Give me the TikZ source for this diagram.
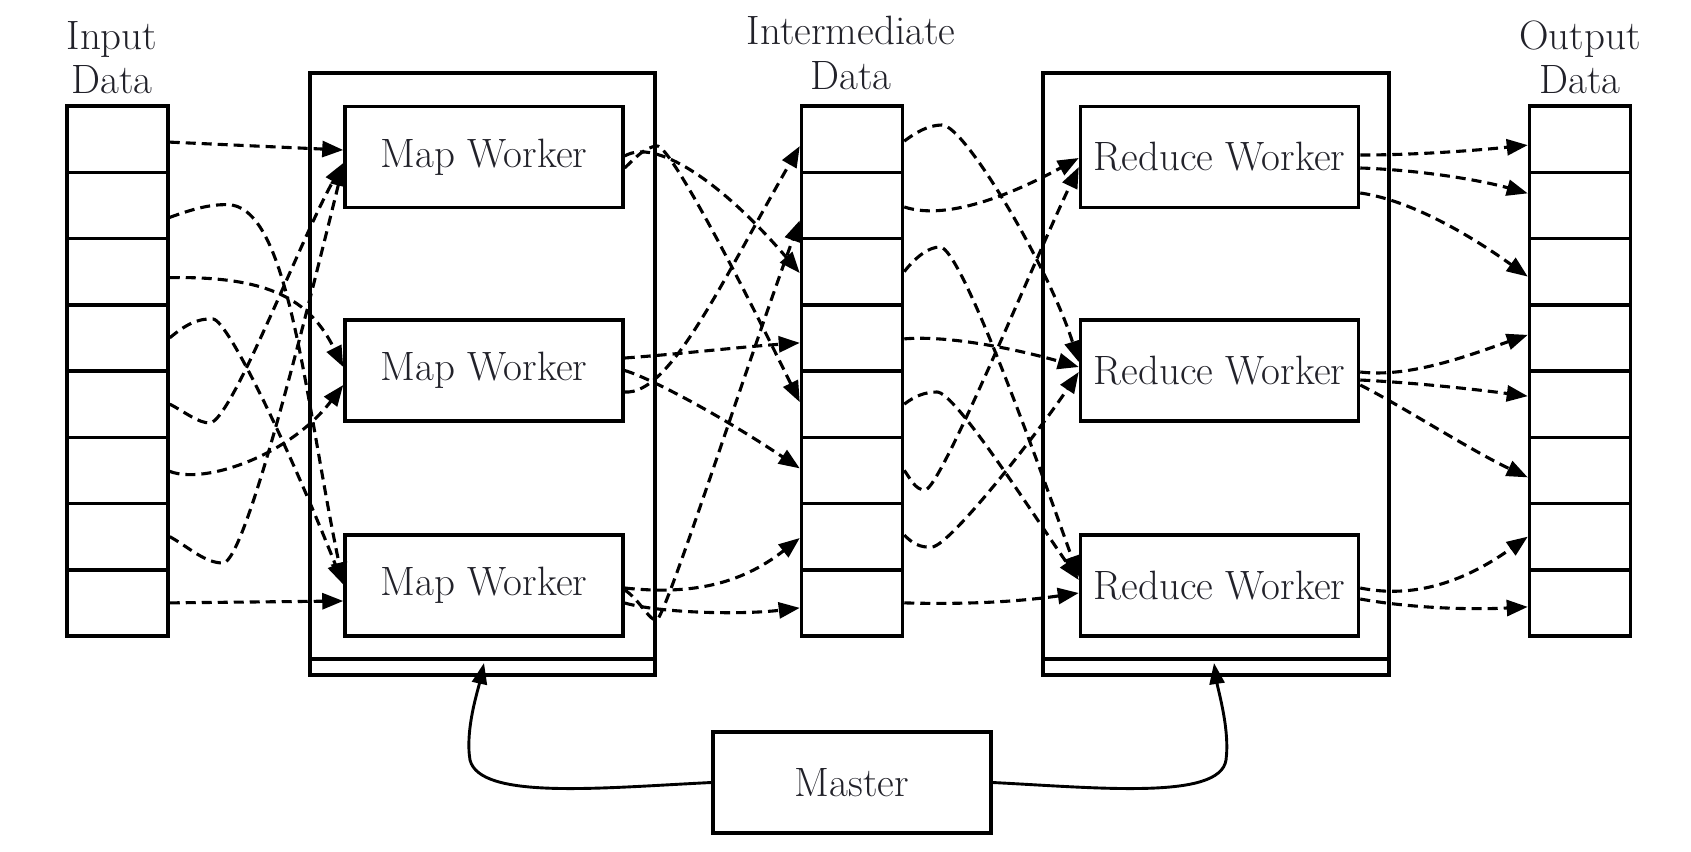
\documentclass[tikz,border=0pt]{standalone}
\usepackage{fontspec}
\usetikzlibrary{arrows.meta,calc}
\definecolor{txt}{RGB}{34,34,42}
\begin{document}
\begin{tikzpicture}[x=1pt,y=-1pt,
  box/.style={draw=black, line width=3.5pt, rectangle, inner sep=0pt, minimum width=278pt, minimum height=101pt, font=\fontsize{41}{48}\selectfont, text=txt},
  cell/.style={draw=black, line width=3.5pt, rectangle, inner sep=0pt, minimum width=101pt, minimum height=66.25pt},
  container/.style={draw=black, line width=3.5pt, rectangle, inner sep=0pt, outer sep=0pt, minimum width=345pt, minimum height=602pt},
  head/.style={font=\fontsize{41}{48}\selectfont, text=txt, anchor=base, inner sep=0pt},
  flow/.style={line width=3.1pt, dash pattern=on 10pt off 6pt, -{Triangle[length=21pt,width=16pt]}},
  ctrl/.style={line width=2.9pt, -{Triangle[length=21pt,width=15pt]}},
]
\useasboundingbox (0,0) rectangle (1691,851);

% containers
\node[container] (mapc) at (482.5,374) {};
\draw[line width=3.5pt] ($(mapc.south west)+(0,-16)$) -- ($(mapc.south east)+(0,-16)$);
\node[container, minimum width=346pt] (redc) at (1216,374) {};
\draw[line width=3.5pt] ($(redc.south west)+(0,-16)$) -- ($(redc.south east)+(0,-16)$);

% headers
\node[head] (inl1) at (112,50) {Input};
\node[head] (inl2) at (112,93) {Data};
\node[head] (iml1) at (851,45) {Intermediate};
\node[head] (iml2) at (851,89) {Data};
\node[head] (oul1) at (1580,50) {Output};
\node[head] (oul2) at (1580,93) {Data};

% data columns
\foreach \i in {1,...,8} {
  \node[cell] (in\i) at (117.5,{106+66.25*(\i-0.5)}) {};
  \node[cell] (int\i) at (852,{106+66.25*(\i-0.5)}) {};
  \node[cell] (out\i) at (1580,{106+66.25*(\i-0.5)}) {};
}

% workers
\node[box] (map1) at (484,157) {Map Worker};
\node[box] (map2) at (484,370.5) {Map Worker};
\node[box] (map3) at (484,585.5) {Map Worker};
\node[box] (red1) at (1219.5,157) {Reduce Worker};
\node[box] (red2) at (1219.5,370.5) {Reduce Worker};
\node[box] (red3) at (1219.5,585.5) {Reduce Worker};
\node[box] (master) at (852,782.5) {Master};

% Input -> Map
\draw[flow] ($(in1.east)+(0,3)$) -- ($(map1.west)+(0,-7)$);
\draw[flow] ($(in2.east)+(0,12)$) .. controls (190,210) and (212,203) .. (232,205) .. controls (290,215) and (305,400) .. ($(map3.west)+(0,-2)$);
\draw[flow] ($(in3.east)+(0,6)$) .. controls (270,276) and (310,300) .. ($(map2.west)+(0,-3.5)$);
\draw[flow] (in4.east) .. controls (185,325) and (198,318) .. (213,319) .. controls (228,320) and (290,450) .. ($(map3.west)+(0,-1)$);
\draw[flow] (in5.east) .. controls (185,412) and (198,423) .. (210,423) .. controls (232,420) and (300,240) .. ($(map1.west)+(0,6)$);
\draw[flow] ($(in6.east)+(0,1)$) .. controls (205,485) and (290,455) .. ($(map2.west)+(0,14.5)$);
\draw[flow] (in7.east) .. controls (190,548) and (205,563) .. (223,563) .. controls (245,563) and (305,320) .. ($(map1.west)+(0,8)$);
\draw[flow] (in8.east) -- ($(map3.west)+(0,15.5)$);

% Map -> Intermediate
\draw[flow] ($(map1.east)+(0,-1)$) .. controls (655,138) and (720,180) .. ($(int3.west)+(0,1.4)$);
\draw[flow] ($(map1.east)+(0,11)$) .. controls (635,158) and (645,147) .. (657,146) .. controls (670,145) and (740,280) .. ($(int5.west)+(0,-2)$);
\draw[flow] ($(map2.east)+(0,-12.5)$) .. controls (680,354) and (740,347) .. ($(int4.west)+(0,5)$);
\draw[flow] (map2.east) .. controls (650,378) and (720,415) .. ($(int6.west)+(0,-2)$);
\draw[flow] ($(map2.east)+(0,21.5)$) .. controls (670,395) and (720,285) .. ($(int1.west)+(0,7)$);
\draw[flow] ($(map3.east)+(0,2.5)$) .. controls (690,595) and (740,585) .. ($(int7.west)+(0,1.4)$);
\draw[flow] ($(map3.east)+(0,17.5)$) .. controls (660,613) and (740,615) .. ($(int8.west)+(0,5)$);
\draw[flow] ($(map3.east)+(0,4.5)$) .. controls (640,600) and (650,622) .. (657,620) .. controls (668,610) and (745,370) .. ($(int2.west)+(0,15)$);

% Intermediate -> Reduce
\draw[flow] ($(int1.east)+(0,2)$) .. controls (915,133) and (928,125) .. (942,125) .. controls (965,125) and (1050,270) .. ($(red2.west)+(0,-8.5)$);
\draw[flow] ($(int2.east)+(0,1.6)$) .. controls (950,222) and (1020,190) .. ($(red1.west)+(0,1)$);
\draw[flow] (int3.east) .. controls (915,258) and (928,247) .. (940,247) .. controls (960,247) and (1030,440) .. ($(red3.west)+(0,-8.5)$);
\draw[flow] ($(int4.east)+(0,1)$) .. controls (950,335) and (1020,350) .. ($(red2.west)+(0,-3.5)$);
\draw[flow] (int5.east) .. controls (915,396) and (925,392) .. (937,392) .. controls (955,392) and (1030,510) .. ($(red3.west)+(0,-5.5)$);
\draw[flow] (int6.east) .. controls (910,478) and (915,490) .. (925,490) .. controls (940,490) and (1030,270) .. ($(red1.west)+(0,10)$);
\draw[flow] ($(int7.east)+(0,-1.6)$) .. controls (912,543) and (920,548) .. (932,547) .. controls (950,546) and (1040,430) .. ($(red2.west)+(0,1.5)$);
\draw[flow] (int8.east) .. controls (980,605) and (1030,600) .. ($(red3.west)+(0,7.5)$);

% Reduce -> Output
\draw[flow] ($(red1.east)+(0,-2)$) .. controls (1420,155) and (1480,150) .. ($(out1.west)+(0,6)$);
\draw[flow] ($(red1.east)+(0,11)$) .. controls (1420,170) and (1480,180) .. ($(out2.west)+(0,-12)$);
\draw[flow] ($(red1.east)+(0,36)$) .. controls (1410,200) and (1470,235) .. ($(out3.west)+(0,5)$);
\draw[flow] ($(red2.east)+(0,1.5)$) .. controls (1410,378) and (1470,355) .. ($(out4.west)+(0,-3)$);
\draw[flow] ($(red2.east)+(0,9.5)$) .. controls (1420,383) and (1480,390) .. ($(out5.west)+(0,-8)$);
\draw[flow] ($(red2.east)+(0,14.5)$) .. controls (1400,405) and (1470,450) .. ($(out6.west)+(0,7)$);
\draw[flow] ($(red3.east)+(0,2.5)$) .. controls (1410,598) and (1460,585) .. (out7.west);
\draw[flow] ($(red3.east)+(0,13.5)$) .. controls (1410,608) and (1470,610) .. ($(out8.west)+(0,4)$);

% Master
\draw[ctrl] (master.west) .. controls (600,788) and (480,800) .. (470,760) .. controls (465,730) and (478,690) .. ($(mapc.south)+(1.5,-12)$);
\draw[ctrl] (master.east) .. controls (1100,788) and (1220,800) .. (1226,760) .. controls (1230,730) and (1218,690) .. ($(redc.south)+(-2,-12)$);
\end{tikzpicture}
\end{document}
